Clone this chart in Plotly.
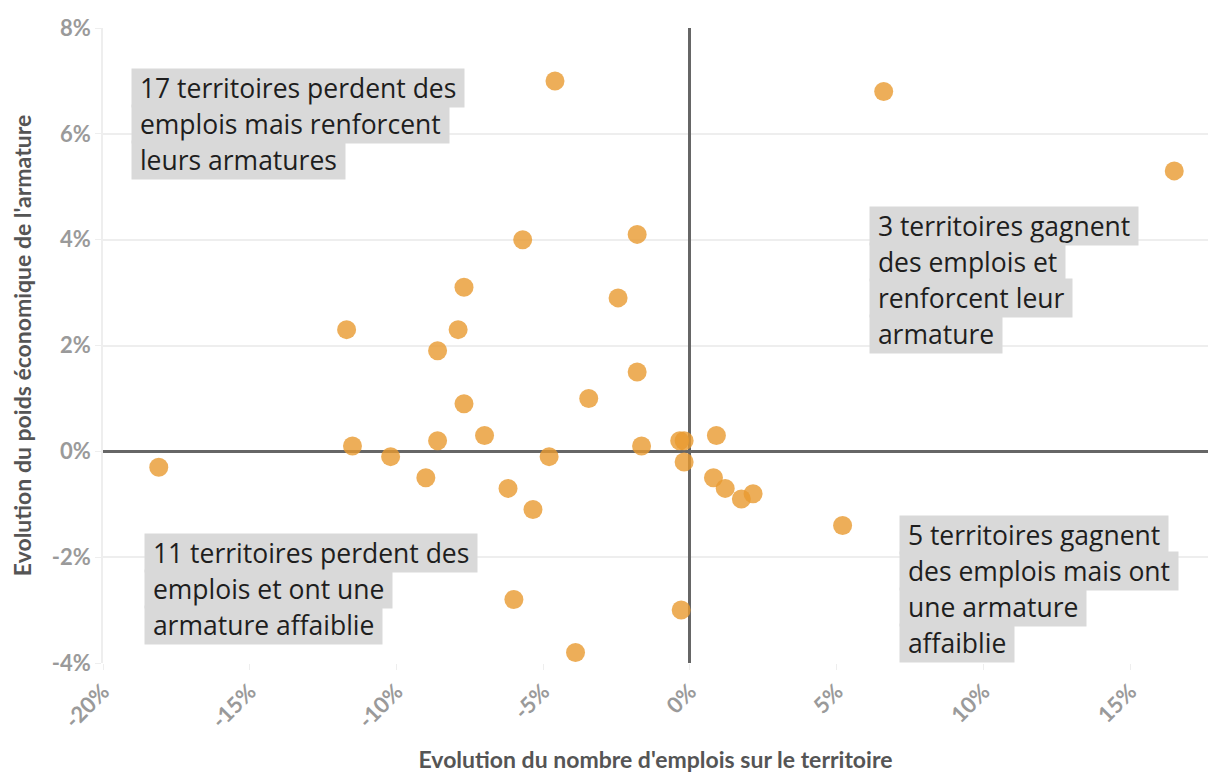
import plotly.graph_objects as go

# Evolution of the number of jobs (%) and of the economic weight of the armature (%)
emplois = [-18.1, -11.7, -11.5, -10.2, -9.0, -8.6, -8.6, -7.9, -7.7, -7.7,
           -7.0, -6.2, -6.0, -5.7, -5.35, -4.8, -4.6, -3.9, -3.45, -2.45,
           -1.8, -1.8, -1.65, -0.35, -0.2, -0.2, -0.3, 0.9, 0.8, 1.2,
           1.75, 2.15, 5.2, 6.6, 16.5]
armature = [-0.3, 2.3, 0.1, -0.1, -0.5, 1.9, 0.2, 2.3, 3.1, 0.9,
            0.3, -0.7, -2.8, 4.0, -1.1, -0.1, 7.0, -3.8, 1.0, 2.9,
            4.1, 1.5, 0.1, 0.2, 0.2, -0.2, -3.0, 0.3, -0.5, -0.7,
            -0.9, -0.8, -1.4, 6.8, 5.3]

x_ticks = [-20, -15, -10, -5, 0, 5, 10, 15]
y_ticks = [-4, -2, 0, 2, 4, 6, 8]

# Quadrant captions, one entry per line, with the left/top pixel of each block
captions = [
    (["17 territoires perdent des", "emplois mais renforcent", "leurs armatures"], 131, 88),
    (["3 territoires gagnent", "des emplois et", "renforcent leur", "armature"], 869, 226),
    (["11 territoires perdent des", "emplois et ont une", "armature affaiblie"], 144, 553),
    (["5 territoires gagnent", "des emplois mais ont", "une armature", "affaiblie"], 899, 535),
]

W, H = 1208, 773
L, R, T, B = 103, 0, 28, 110
LINE_STEP = 36
NBSP = "\u00a0"

fig = go.Figure()
fig.add_trace(go.Scatter(
    x=emplois, y=armature, mode="markers",
    marker=dict(size=19, color="#e89a30", opacity=0.8, line=dict(width=0)),
    hoverinfo="x+y", showlegend=False,
))

annotations = []
for lines, px, py in captions:
    for i, line in enumerate(lines):
        cy = py + i * LINE_STEP
        annotations.append(dict(
            text=NBSP + line + NBSP, xref="paper", yref="paper",
            x=(px - L) / (W - L - R), y=1 - (cy - T) / (H - T - B),
            xanchor="left", yanchor="middle", showarrow=False, align="left",
            font=dict(family="Open Sans", size=26.5, color="#1e1e1e"),
            bgcolor="#d9d9d9", borderpad=1,
        ))

tick_font = dict(family="Lato", size=22, color="#9a9a9a", weight="bold")
title_font = dict(family="Lato", size=23, color="#555555", weight="bold")

fig.update_layout(
    width=W, height=H,
    margin=dict(l=L, r=R, t=T, b=B),
    paper_bgcolor="white", plot_bgcolor="white",
    annotations=annotations,
    xaxis=dict(
        range=[-20, 17.65], tickvals=x_ticks,
        ticktext=[f"{v}%" for v in x_ticks], tickangle=-45,
        showgrid=False, zeroline=True, zerolinecolor="#666666", zerolinewidth=2.5,
        ticks="outside", ticklen=6, tickcolor="#eeeeee",
        tickfont=tick_font, automargin=False,
        title=dict(text="Evolution du nombre d'emplois sur le territoire",
                   font=title_font, standoff=30),
    ),
    yaxis=dict(
        range=[-4, 8], tickvals=y_ticks,
        ticktext=[f"{v}%" for v in y_ticks],
        showgrid=True, gridcolor="#eeeeee", gridwidth=1.5,
        zeroline=True, zerolinecolor="#666666", zerolinewidth=3,
        showline=True, linecolor="#eeeeee", linewidth=1.5,
        ticks="outside", ticklen=6, tickcolor="#eeeeee",
        tickfont=tick_font, automargin=False,
        title=dict(text="Evolution du poids économique de l'armature",
                   font=title_font, standoff=14),
    ),
)

fig.write_html("out.html")
